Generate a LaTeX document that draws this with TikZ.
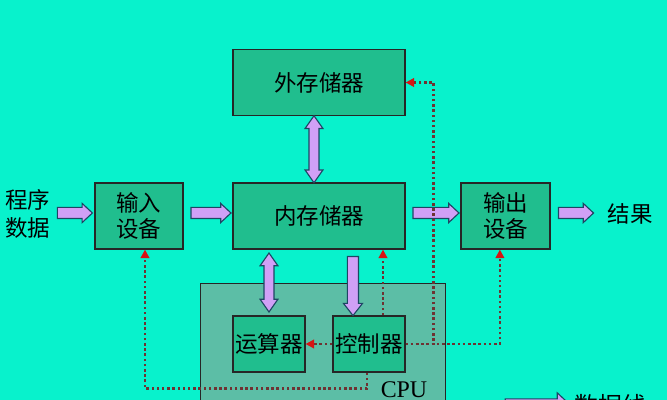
\documentclass[tikz,border=0pt]{standalone}
\usepackage{fontspec}
\setmainfont{Liberation Serif}
\newfontfamily\cjk{Noto Sans CJK SC}
\usetikzlibrary{shapes.arrows,arrows.meta,calc}
\definecolor{sea}{RGB}{8,242,204}
\definecolor{unitfill}{RGB}{32,190,142}
\definecolor{cpufill}{RGB}{92,190,166}
\definecolor{busfill}{RGB}{208,160,246}
\definecolor{busline}{RGB}{30,70,100}
\definecolor{ctrl}{RGB}{110,50,50}
\definecolor{ctrltip}{RGB}{215,20,20}
\begin{document}
\begin{tikzpicture}[x=0.025cm,y=-0.025cm,
    unit/.style={draw=black!85,fill=unitfill,line width=0.8pt,minimum height=1.65cm,
      font=\cjk\fontsize{16}{19}\selectfont,align=center,inner sep=0pt},
    bus/.style={single arrow,draw=busline,fill=busfill,line width=0.8pt,inner xsep=0pt,
      inner ysep=0.125cm,single arrow head extend=0.1cm,single arrow tip angle=86},
    dbus/.style={double arrow,draw=busline,fill=busfill,line width=0.8pt,inner xsep=0pt,
      inner ysep=0.11cm,double arrow head extend=0.1cm,double arrow tip angle=70,rotate=90},
    ctrlline/.style={ctrl,line width=1.8pt,dash pattern=on 1.8pt off 1.9pt,
      -{Triangle[color=ctrltip,length=6pt,width=6pt]}}]
  \useasboundingbox (0,0) rectangle (667,400);
  \clip (0,0) rectangle (667,400);
  \fill[sea] (0,0) rectangle (667,400);
  % units
  \node[unit,minimum width=4.3cm] (ext) at (319,82.5) {外存储器};
  \node[unit,minimum width=4.3cm] (mem) at (319,216) {内存储器};
  \node[unit,minimum width=2.2cm] (inp) at (139,216) {输入\\设备};
  \node[unit,minimum width=2.225cm] (outp) at (505.5,216) {输出\\设备};
  \node[draw=black!85,fill=cpufill,line width=0.8pt,minimum width=6.125cm,minimum height=3.5cm,
    anchor=north west] (cpu) at (200,283) {};
  \node[font=\fontsize{17}{19}\selectfont,anchor=base] (cpulbl) at (404,398) {CPU};
  \node[unit,minimum width=1.8cm,minimum height=1.4cm] (alu) at (269,344) {运算器};
  \node[unit,minimum width=1.8cm,minimum height=1.4cm] (cu) at (369,344) {控制器};
  \node[font=\cjk\fontsize{16}{20}\selectfont,align=center] (prog) at (28,214) {程序\\数据};
  \node[font=\cjk\fontsize{16}{19}\selectfont] (res) at (630,214) {结果};
  % data lines
  \node[bus,minimum height=0.875cm] (b1) at ($(inp.west)+(-22.5,-3)$) {};
  \node[bus,minimum height=1cm] (b2) at ($(inp.east)!0.5!(mem.west)+(0,-3)$) {};
  \node[bus,minimum height=1.15cm] (b3) at ($(mem.east)!0.5!(outp.west)+(0,-3)$) {};
  \node[bus,minimum height=0.875cm] (b4) at ($(outp.east)+(22.5,-3)$) {};
  \node[dbus,minimum height=1.675cm] (d1) at ($(ext.south)!0.5!(mem.north)+(-5,0)$) {};
  \node[dbus,minimum height=1.475cm] (d2) at ($(mem.south -| alu)!0.5!(alu.north)$) {};
  \node[bus,rotate=-90,minimum height=1.475cm,single arrow tip angle=76]
    (d3) at ($([xshift=-0.4cm]cu.north)!0.5!([xshift=-0.4cm]cu.north |- mem.south)$) {};
  % control lines
  \draw[ctrlline] (cu.west) -- (alu.east);
  \draw[ctrlline] ([xshift=0.35cm]cu.north) -- ([xshift=0.35cm]cu.north |- mem.south);
  \draw[ctrlline] (cu.east) -- ++(28,0) |- (ext.east);
  \draw[ctrlline] (cu.east) -| ([xshift=-0.14cm]outp.south);
  \draw[ctrlline] ([xshift=-0.05cm]cu.south) -- ++(0,16) -| ([xshift=0.15cm]inp.south);
  % key
  \node[bus,minimum height=1.625cm,inner ysep=0.14cm,single arrow head extend=0.15cm]
    (key) at (534.5,405) {};
  \node[font=\cjk\fontsize{17}{19}\selectfont,anchor=west] (keytxt) at (570,405) {数据线};
\end{tikzpicture}
\end{document}
